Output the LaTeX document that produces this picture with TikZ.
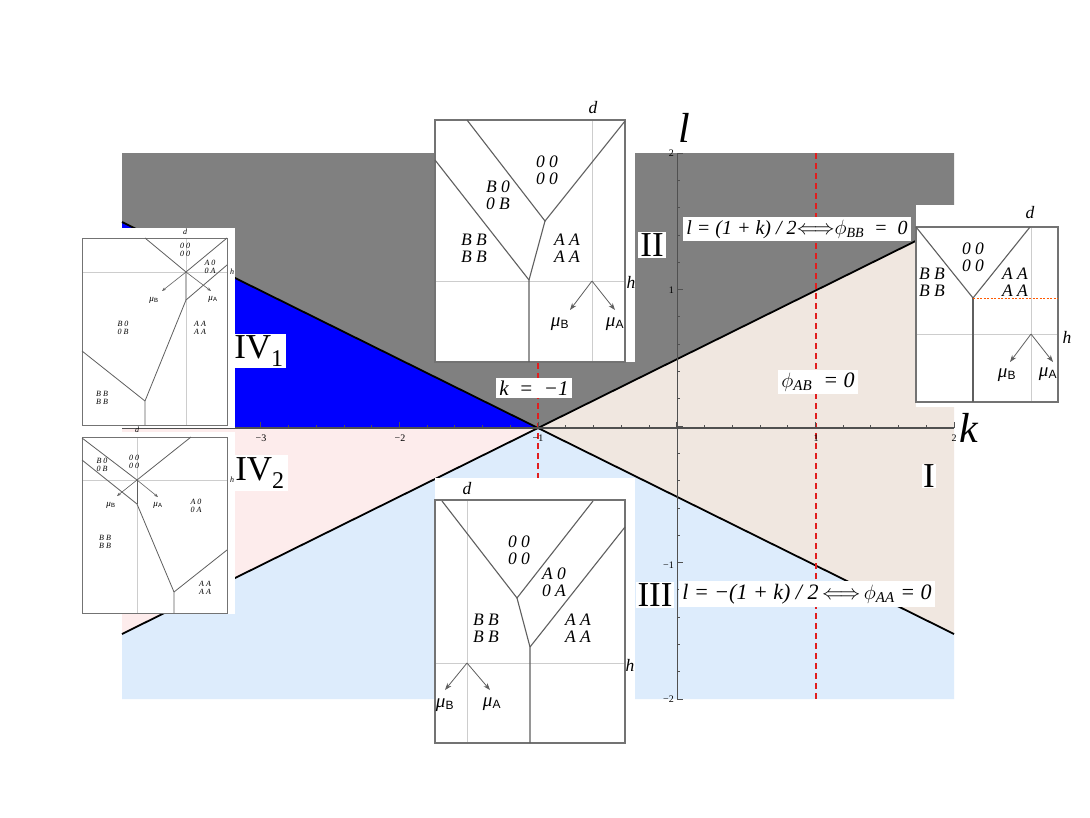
\documentclass[tikz,border=0pt]{standalone}
\usepackage{fontspec}
\setmainfont{Liberation Serif}
\setsansfont{Liberation Sans}
\usetikzlibrary{arrows.meta}
\definecolor{pgray}{RGB}{128,128,128}
\definecolor{pblue}{RGB}{0,0,255}
\definecolor{pbeige}{RGB}{240,231,224}
\definecolor{ppink}{RGB}{253,236,236}
\definecolor{plblue}{RGB}{221,236,252}
\definecolor{pred}{RGB}{225,30,30}
\definecolor{framec}{RGB}{115,115,115}
\definecolor{darkc}{RGB}{95,95,95}
\definecolor{lightc}{RGB}{205,205,205}
\definecolor{axisc}{RGB}{80,80,80}
\newcommand{\phisym}{$\phi$}
\begin{document}
\begin{tikzpicture}[x=1pt,y=-1pt,
  frame/.style={draw=framec,line width=1.2pt},
  dark/.style={draw=darkc,line width=1.1pt},
  light/.style={draw=lightc,line width=0.9pt},
  mu/.style={-{Stealth[length=7pt,width=5pt]},draw=darkc,line width=0.8pt},
  musmall/.style={-{Stealth[length=4pt,width=3pt]},draw=darkc,line width=0.6pt},
  lab/.style={fill=white,inner sep=3pt,font=\fontsize{22}{24}\selectfont\itshape},
  roman/.style={fill=white,inner sep=2pt,font=\fontsize{35}{37}\selectfont},
  cell/.style={align=center,inner sep=0pt,font=\fontsize{17.5}{17}\selectfont\itshape},
  cellsmall/.style={align=center,inner sep=0pt,font=\fontsize{8}{7.5}\selectfont\itshape},
  axlab/.style={inner sep=0pt,font=\fontsize{42}{44}\selectfont\itshape},
  ticklab/.style={inner sep=0pt,font=\fontsize{10}{12}\selectfont},
  ax/.style={draw=axisc,line width=1.4pt},
  tick/.style={draw=axisc,line width=0.7pt},
  rdash/.style={draw=pred,line width=1.4pt,dash pattern=on 6pt off 4pt},
  bline/.style={draw=black,line width=1.8pt},
  mubig/.style={cell,font=\fontsize{19}{19}\selectfont\itshape},
  musm/.style={cellsmall,font=\fontsize{9}{9}\selectfont\itshape}
]
\useasboundingbox (0,0) rectangle (1090,817);
\fill[white] (0,0) rectangle (1090,817);
% regions
\fill[pgray] (122,153) -- (954,153) -- (954,222) -- (538,428) -- (122,222) -- cycle;
\fill[pblue] (122,222) -- (538,428) -- (122,428) -- cycle;
\fill[ppink] (122,428) -- (538,428) -- (122,634) -- cycle;
\fill[plblue] (122,634) -- (538,428) -- (954,634) -- (954,699) -- (122,699) -- cycle;
\fill[pbeige] (538,428) -- (954,222) -- (954,634) -- cycle;
% boundary lines
\coordinate (ul) at (122,222); \coordinate (ll) at (122,634);
\coordinate (ur) at (954,222); \coordinate (lr) at (954,634);
\draw[bline] (ul) -- (lr);
\draw[bline] (ll) -- (ur);
% red dashed
\coordinate (r1t) at (538,153); \coordinate (r1b) at (538,699);
\coordinate (r2t) at (816,153); \coordinate (r2b) at (816,699);
\draw[rdash] (r1t) -- (r1b);
\draw[rdash] (r2t) -- (r2b);
% axes
\coordinate (xa) at (122,428); \coordinate (xb) at (954,428);
\coordinate (ya) at (677,153); \coordinate (yb) at (677,699);
\draw[ax] (xa) -- (xb);
\draw[tick,line width=1pt] (ya) -- (yb);
\foreach \i in {0,...,30}{
  \pgfmathtruncatemacro\m{mod(\i,5)}
  \ifnum\m=0 \def\tl{6}\else\def\tl{3}\fi
  \draw[tick] (122+\i*27.733,428) -- ++(0,-\tl);
}
\foreach \j in {0,...,20}{
  \pgfmathtruncatemacro\m{mod(\j,5)}
  \ifnum\m=0 \def\tl{6}\else\def\tl{3}\fi
  \draw[tick] (677,699-\j*27.3) -- ++(\tl,0);
}
\node[ticklab] (tm3) at (261,438) {−3};
\node[ticklab] (tm2) at (400,438) {−2};
\node[ticklab] (tm1) at (538,438) {−1};
\node[ticklab] (tp1) at (816,438) {1};
\node[ticklab] (tp2) at (954,438) {2};
\node[ticklab,anchor=east] (lp2) at (674,153) {2};
\node[ticklab,anchor=east] (lp1) at (674,290) {1};
\node[ticklab,anchor=east] (lm1) at (674,565) {−1};
\node[ticklab,anchor=east] (lm2) at (674,699) {−2};
\node[axlab] (kl) at (969,428) {k};
\node[axlab] (lax) at (684,128) {l};
% labels
\node[roman] (II) at (652,245) {II};
\node[lab,font=\fontsize{20}{22}\selectfont\itshape] (bb) at (797,229) {l = (1 + k) / 2$\Longleftrightarrow$\phisym\textsubscript{\fontsize{14}{14}\selectfont BB} ~= ~0};
\node[roman] (III) at (655,595) {III};
\node[lab] (aa) at (807,594) {l = −(1 + k) / 2\,$\Longleftrightarrow$\,\phisym\textsubscript{\fontsize{15}{15}\selectfont AA} = 0};
\node[roman,inner sep=1pt] (I) at (929,476) {I};
\node[lab] (ab) at (818,382) {\phisym\textsubscript{\fontsize{15}{15}\selectfont AB} ~= 0};
\node[lab,font=\fontsize{21}{23}\selectfont\itshape] (km) at (534,388) {k ~= ~−1};
\node[roman,inner sep=2pt] (IV1) at (259,351) {IV\textsubscript{\fontsize{24}{24}\selectfont 1}};
\node[roman,inner sep=3pt] (IV2) at (260,473) {IV\textsubscript{\fontsize{24}{24}\selectfont 2}};
% ---------- top inset ----------
\fill[white] (435,118) rectangle (635,362);
\draw[light] (592,120) -- (592,362);
\draw[light] (435,281) -- (625,281);
\draw[frame] (435,120) rectangle (625,362);
\coordinate (a1) at (467,120); \coordinate (a2) at (625,121); \coordinate (a3) at (545,221);
\coordinate (a4) at (435,160); \coordinate (a5) at (529,280); \coordinate (a6) at (529,362);
\draw[dark] (a1) -- (a3) -- (a2);
\draw[dark] (a4) -- (a5) -- (a6);
\draw[dark] (a3) -- (a5);
\node[cell] (a00) at (547,170) {0 0\\0 0};
\node[cell] (ab0) at (498,195) {B 0\\0 B};
\node[cell] (abb) at (474,248) {B B\\B B};
\node[cell] (aaa) at (567,248) {A A\\A A};
\node[cell] (ad) at (593,108) {d};
\node[cell] (ah) at (631,282) {h};
\coordinate (ao) at (592,281);
\coordinate (amb) at (570,310); \coordinate (ama) at (615,310);
\draw[mu] (ao) -- (amb);
\draw[mu] (ao) -- (ama);
\node[mubig] (aMB) at (560,324) {μ\textsubscript{\upshape\sffamily\fontsize{12}{12}\selectfont B}};
\node[mubig] (aMA) at (615,324) {μ\textsubscript{\upshape\sffamily\fontsize{12}{12}\selectfont A}};
% ---------- right inset ----------
\fill[white] (916,205) rectangle (1062,407);
\draw[light] (1031,227) -- (1031,402);
\draw[light] (916,334) -- (1058,334);
\draw[frame] (916,227) rectangle (1058,402);
\coordinate (b1) at (916,227); \coordinate (b2) at (1030,227); \coordinate (b3) at (973,298);
\coordinate (b4) at (973,402); \coordinate (b5) at (1058,298);
\draw[dark] (b1) -- (b3) -- (b2);
\draw[dark] (b3) -- (b4);
\draw[draw=orange!70!red,line width=0.8pt,dash pattern=on 2pt off 1.5pt] (b3) -- (b5);
\node[cell] (b00) at (973,257) {0 0\\0 0};
\node[cell] (bbb) at (932,282) {B B\\B B};
\node[cell] (baa) at (1015,282) {A A\\A A};
\node[cell] (bd) at (1030,213) {d};
\node[cell] (bh) at (1067,337) {h};
\coordinate (bo) at (1031,334);
\coordinate (bmb) at (1010,362); \coordinate (bma) at (1053,362);
\draw[mu] (bo) -- (bmb);
\draw[mu] (bo) -- (bma);
\node[mubig] (bMB) at (1007,375) {μ\textsubscript{\upshape\sffamily\fontsize{12}{12}\selectfont B}};
\node[mubig] (bMA) at (1048,374) {μ\textsubscript{\upshape\sffamily\fontsize{12}{12}\selectfont A}};
% ---------- left upper inset ----------
\fill[white] (80,228) rectangle (235,428);
\draw[light] (186,238) -- (186,425);
\draw[light] (82,272) -- (227,272);
\draw[frame,line width=0.9pt] (82,238) rectangle (227,425);
\coordinate (c1) at (145,238); \coordinate (c2) at (227,238); \coordinate (c3) at (186,272);
\coordinate (c4) at (186,300); \coordinate (c5) at (227,265); \coordinate (c6) at (145,401);
\coordinate (c7) at (82,351); \coordinate (c8) at (145,425);
\draw[dark,line width=0.8pt] (c1) -- (c3) -- (c2);
\draw[dark,line width=1.4pt,draw=gray!55] (c3) -- (c4);
\draw[dark,line width=0.8pt] (c5) -- (c4) -- (c6) -- (c8);
\draw[dark,line width=0.8pt] (c7) -- (c6);
\node[cellsmall] (c00) at (185,250) {0 0\\0 0};
\node[cellsmall] (ca0) at (210,267) {A 0\\0 A};
\node[cellsmall] (cb0) at (123,328) {B 0\\0 B};
\node[cellsmall] (caa) at (200,328) {A A\\A A};
\node[cellsmall] (cbb) at (102,398) {B B\\B B};
\node[cellsmall] (cd) at (185,232) {d};
\node[cellsmall] (ch) at (232,272) {h};
\coordinate (cmb) at (162,291); \coordinate (cma) at (211,291);
\draw[musmall] (c3) -- (cmb);
\draw[musmall] (c3) -- (cma);
\node[musm] (cMB) at (154,300) {μ\textsubscript{\upshape\sffamily\fontsize{6}{6}\selectfont B}};
\node[musm] (cMA) at (213,299) {μ\textsubscript{\upshape\sffamily\fontsize{6}{6}\selectfont A}};
% ---------- left lower inset ----------
\fill[white] (80,432) rectangle (235,614);
\draw[light] (137,437) -- (137,613);
\draw[light] (82,480) -- (227,480);
\draw[frame,line width=0.9pt] (82,437) rectangle (227,613);
\coordinate (d1) at (82,438); \coordinate (d2) at (191,437); \coordinate (d3) at (137,480);
\coordinate (d4) at (137,504); \coordinate (d5) at (82,460); \coordinate (d6) at (174,592);
\coordinate (d7) at (227,550); \coordinate (d8) at (174,613);
\draw[dark,line width=0.8pt] (d1) -- (d3) -- (d2);
\draw[dark,line width=0.8pt] (d3) -- (d4);
\draw[dark,line width=0.8pt] (d5) -- (d4) -- (d6) -- (d8);
\draw[dark,line width=0.8pt] (d6) -- (d7);
\node[cellsmall] (d00) at (134,462) {0 0\\0 0};
\node[cellsmall] (db0) at (102,465) {B 0\\0 B};
\node[cellsmall] (da0) at (196,506) {A 0\\0 A};
\node[cellsmall] (dbb) at (105,542) {B B\\B B};
\node[cellsmall] (daa) at (205,588) {A A\\A A};
\node[cellsmall] (dd) at (137,430) {d};
\node[cellsmall] (dh) at (232,480) {h};
\coordinate (dmb) at (117,496); \coordinate (dma) at (158,497);
\draw[musmall] (d3) -- (dmb);
\draw[musmall] (d3) -- (dma);
\node[musm] (dMB) at (111,505) {μ\textsubscript{\upshape\sffamily\fontsize{6}{6}\selectfont B}};
\node[musm] (dMA) at (158,505) {μ\textsubscript{\upshape\sffamily\fontsize{6}{6}\selectfont A}};
% ---------- bottom inset ----------
\fill[white] (435,478) rectangle (635,745);
\draw[light] (467,500) -- (467,743);
\draw[light] (435,663) -- (625,663);
\draw[frame] (435,500) rectangle (625,743);
\coordinate (e1) at (442,501); \coordinate (e2) at (593,501); \coordinate (e3) at (517,598);
\coordinate (e4) at (625,527); \coordinate (e5) at (530,647); \coordinate (e6) at (530,743);
\draw[dark] (e1) -- (e3) -- (e2);
\draw[dark] (e3) -- (e5) -- (e6);
\draw[dark] (e4) -- (e5);
\node[cell] (e00) at (519,550) {0 0\\0 0};
\node[cell] (ea0) at (554,582) {A 0\\0 A};
\node[cell] (ebb) at (486,628) {B B\\B B};
\node[cell] (eaa) at (578,628) {A A\\A A};
\node[cell] (ed) at (467,489) {d};
\node[cell] (eh) at (630,665) {h};
\coordinate (eo) at (467,663);
\coordinate (emb) at (445,690); \coordinate (ema) at (490,690);
\draw[mu] (eo) -- (emb);
\draw[mu] (eo) -- (ema);
\node[mubig] (eMB) at (445,705) {μ\textsubscript{\upshape\sffamily\fontsize{12}{12}\selectfont B}};
\node[mubig] (eMA) at (492,704) {μ\textsubscript{\upshape\sffamily\fontsize{12}{12}\selectfont A}};
\end{tikzpicture}
\end{document}
